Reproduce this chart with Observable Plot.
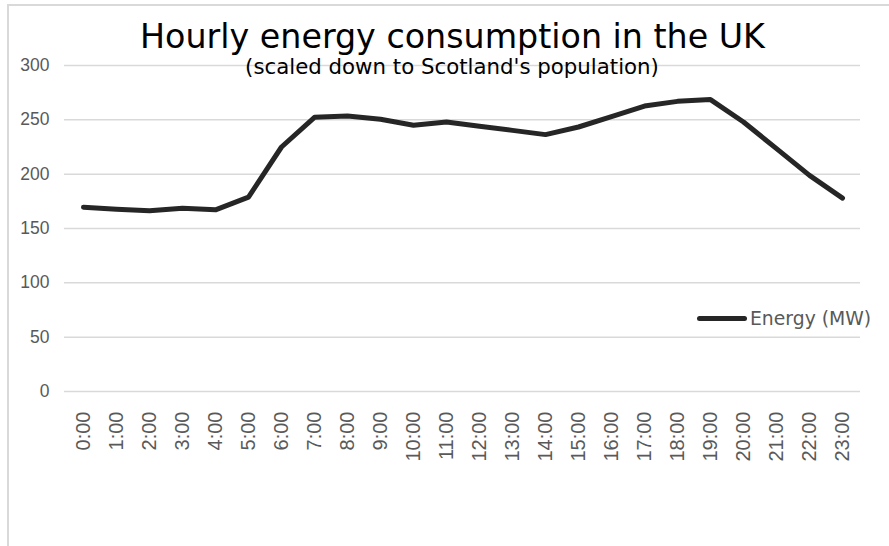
<!DOCTYPE html>
<html>
<head>
<meta charset="utf-8">
<script src="https://cdn.jsdelivr.net/npm/d3@7"></script>
<script src="https://cdn.jsdelivr.net/npm/@observablehq/plot@0.6"></script>
<style>
  html, body { margin: 0; padding: 0; background: #ffffff; }
  #wrap { position: relative; width: 889px; height: 546px; overflow: hidden; background: #fff; }
  #border { position: absolute; left: 7px; top: 4px; width: 2000px; height: 2000px;
            border-left: 2px solid #d9d9d9; border-top: 2px solid #d9d9d9; box-sizing: border-box; }
  #chart { position: absolute; left: 0; top: 0; }
  #legend { position: absolute; left: 697px; top: 306px; height: 24px; display: flex; align-items: center;
            font-family: "DejaVu Sans", sans-serif; font-size: 18.8px; color: #595959; white-space: nowrap; }
  #legend .sw { width: 50px; height: 5px; background: #262626; border-radius: 3px; margin-right: 3px; }
  svg g[aria-label="y-axis tick label"] text { font-family: "Liberation Sans", Arial, sans-serif; }
  svg g[aria-label="x-axis tick label"] text { font-family: "Liberation Sans", Arial, sans-serif; }
</style>
</head>
<body>
<div id="wrap">
  <div id="border"></div>
  <div id="chart"></div>
  <div id="legend"><span class="sw"></span><span>Energy (MW)</span></div>
</div>
<script>
const hours = ["0:00","1:00","2:00","3:00","4:00","5:00","6:00","7:00","8:00","9:00","10:00","11:00",
               "12:00","13:00","14:00","15:00","16:00","17:00","18:00","19:00","20:00","21:00","22:00","23:00"];
const energy = [169.6, 167.8, 166.3, 168.7, 167.2, 178.9, 225.0, 252.3, 253.5, 250.5, 245.0, 248.0,
                244.0, 240.3, 236.4, 243.4, 253.0, 262.7, 267.0, 268.6, 248.0, 223.5, 198.9, 178.0];
const yTicks = [0, 50, 100, 150, 200, 250, 300];
const titleText = "Hourly energy consumption in the UK";
const subtitleText = "(scaled down to Scotland's population)";

const data = hours.map((h, i) => ({hour: h, value: energy[i]}));

const chart = Plot.plot({
  width: 889,
  height: 546,
  marginTop: 65,
  marginBottom: 155,
  marginLeft: 64,
  marginRight: 29,
  style: {background: "transparent", overflow: "visible"},
  x: {type: "point", domain: hours, padding: 0.5},
  y: {domain: [0, 300]},
  marks: [
    Plot.gridY(yTicks, {stroke: "#d9d9d9", strokeOpacity: 1, strokeWidth: 1.5}),
    Plot.axisY(yTicks, {tickSize: 0, tickPadding: 15, fontSize: 17.5, fill: "#595959", label: null}),
    Plot.axisX(hours, {tickSize: 0, tickPadding: 20, tickRotate: -90, fontSize: 20, fill: "#595959", label: null}),
    Plot.line(data, {x: "hour", y: "value", stroke: "#262626", strokeWidth: 5,
                     strokeLinejoin: "round", strokeLinecap: "round"}),
    Plot.text([titleText], {frameAnchor: "top", text: d => d, dx: -10, dy: -18, lineAnchor: "bottom",
                            fontSize: 33.3, fill: "#000", fontFamily: "DejaVu Sans"}),
    Plot.text([subtitleText], {frameAnchor: "top", text: d => d, dx: -10.5, dy: 8, lineAnchor: "bottom",
                               fontSize: 21.3, fill: "#000", fontFamily: "DejaVu Sans"})
  ]
});
document.getElementById("chart").appendChild(chart);
</script>
</body>
</html>
